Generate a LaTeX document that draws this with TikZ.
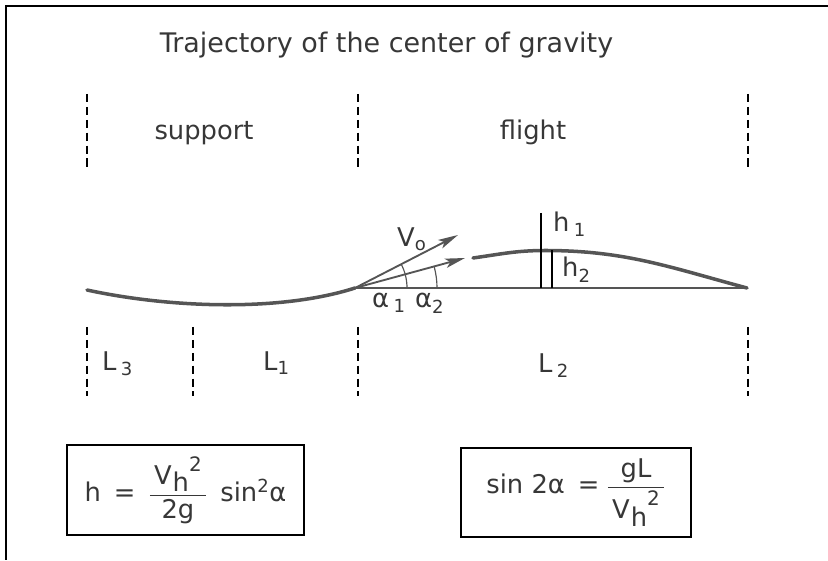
\documentclass[tikz,border=0pt]{standalone}
\usepackage{amsmath}
\usepackage{fontspec}
\setmainfont{DejaVu Sans}
\setsansfont{DejaVu Sans}
\usepackage{tikz}
\usetikzlibrary{arrows.meta}
\definecolor{ink}{RGB}{55,55,55}
\definecolor{gravgray}{RGB}{85,85,85}
\newcommand{\vhsq}{V\kern.04em\raisebox{-.3em}{h}\raisebox{.5em}{\fontsize{17}{17}\selectfont 2}}

\begin{document}
\begin{tikzpicture}[x=3mm,y=3mm,
  dashline/.style={black,line width=1.1pt,dash pattern=on 7pt off 4pt},
  trackline/.style={gravgray,line width=3pt,line cap=round},
  thinline/.style={gravgray,line width=1pt},
  vecline/.style={gravgray,line width=1.6pt,-{Stealth[length=17pt,width=8pt,inset=4pt]}},
  lbl/.style={text=ink,font=\sffamily\fontsize{22}{26}\selectfont,inner sep=0pt},
  formbox/.style={draw=black,line width=1pt,text=ink,font=\sffamily\fontsize{22}{26}\selectfont}]
\useasboundingbox (0,0) rectangle (82.8,56);
% frame
\draw[black,line width=1pt] (82.8,55.4)--(0.6,55.4)--(0.6,0);
\node[lbl,anchor=base,font=\sffamily\fontsize{23}{28}\selectfont] (title) at (38.65,50.7) {Trajectory of the center of gravity};
% phases
\foreach \x in {8.7,35.8,74.8} {
  \draw[dashline] (\x,46.6)--(\x,39.1);
}
\node[lbl,anchor=base] (support) at (20.4,42.0) {support};
\node[lbl,anchor=base] (flight) at (53.3,42.0) {flight};
% trajectory
\coordinate (lstart) at (8.7,27.0);
\coordinate (o) at (35.5,27.2);
\coordinate (vtip) at (45.8,32.5);
\coordinate (wtip) at (46.5,30.2);
\coordinate (fstart) at (47.3,30.2);
\coordinate (apex) at (54.5,30.95);
\coordinate (fend) at (74.7,27.2);
\draw[trackline] (lstart) .. controls (17,25.2) and (28,24.8) .. (o);
\draw[trackline] (fstart) to[out=8,in=180] (apex) to[out=0,in=165] (fend);
\draw[thinline] (o)--(fend);
\draw[vecline] (o)--(vtip);
\draw[vecline] (o)--(wtip);
\draw[thinline] (o) ++(5.2,0) arc (0:27.2:5.2);
\draw[thinline] (o) ++(8.2,0) arc (0:15.3:8.2);
\coordinate (h1top) at (54.1,34.7);
\coordinate (h2top) at (55.2,30.95);
\draw[black,line width=1pt] (h1top)--(h1top |- o);
\draw[black,line width=1pt] (h2top)--(h2top |- o);
\node[lbl,anchor=base west] (vo) at (39.7,31.3) {V\textsubscript{o}};
\node[lbl,anchor=base west] (hone) at (55.3,32.8) {h\,\textsubscript{1}};
\node[lbl,anchor=base west] (htwo) at (56.2,28.3) {h\textsubscript{2}};
\node[lbl,anchor=base west] (aone) at (37.2,25.2) {α\,\textsubscript{1}};
\node[lbl,anchor=base west] (atwo) at (41.5,25.2) {α\textsubscript{2}};
% distances
\foreach \x in {8.7,19.3,35.8,74.8} {
  \draw[dashline] (\x,23.3)--(\x,16.4);
}
\node[lbl,anchor=base west] (lthree) at (10.2,19.0) {L\,\textsubscript{3}};
\node[lbl,anchor=base west] (lone) at (26.3,19.0) {L\textsubscript{1}};
\node[lbl,anchor=base west] (ltwo) at (53.8,18.8) {L\,\textsubscript{2}};
% formulas
\node[formbox,minimum width=71.1mm,minimum height=27mm] (hbox) at (18.55,7.0)
  {h\enspace=\enspace$\dfrac{\mbox{\,\vhsq\,}}{\mbox{2g}}$\enspace sin\textsuperscript{2}α};
\node[formbox,minimum width=69mm,minimum height=26.7mm] (sbox) at (57.6,6.75)
  {sin 2α\enspace=\;$\dfrac{\mbox{\,gL\,}}{\mbox{\,\vhsq\,}}$};
\end{tikzpicture}
\end{document}
